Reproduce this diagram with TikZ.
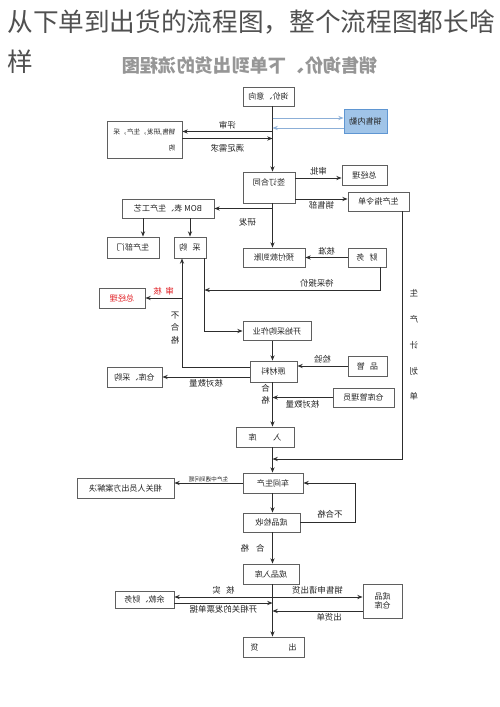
\documentclass[tikz,border=0pt]{standalone}
\usepackage{fontspec}
\setmainfont{Noto Sans CJK SC}
\usepackage{graphicx}
\usepackage{xcolor}
\definecolor{LineGray}{RGB}{45,45,45}
\definecolor{BoxGray}{RGB}{95,95,95}
\definecolor{HeadGray}{RGB}{80,80,80}
\definecolor{TitleGray}{RGB}{150,150,150}
\definecolor{DeskBlue}{RGB}{160,196,232}
\definecolor{DeskEdge}{RGB}{95,150,210}
\definecolor{DeskArrow}{RGB}{140,175,215}
\definecolor{RejectRed}{RGB}{225,30,35}
\usetikzlibrary{arrows.meta}
\newcommand*{\mirr}[1]{\reflectbox{#1}}
\newcommand*{\boxfont}{\fontsize{4.6}{5.6}\selectfont}
\newcommand*{\lblfont}{\fontsize{4.8}{5.8}\selectfont}
\tikzset{%
  box/.style={draw=BoxGray, line width=0.5pt, inner sep=0pt, text=black!85, font=\boxfont},
  boxwh/.style 2 args={minimum width=#1*0.02cm, minimum height=#2*0.02cm},
  deskbox/.style={fill=DeskBlue, draw=DeskEdge},
  lbl/.style={font=\lblfont, inner sep=1.2pt, text=black!85},
  arr/.style={->, draw=LineGray, line width=0.5pt},
  deskarr/.style={->, draw=DeskArrow, line width=0.5pt}
}

\begin{document}
\begin{tikzpicture}[x=0.02cm, y=-0.02cm, >={Stealth[length=3pt,width=2.4pt]}]
    \path[fill=white, use as bounding box] (0,0) rectangle (500,707);
    % Page heading (not mirrored).
    \node[anchor=base west, inner sep=0pt, text=HeadGray, font=\fontsize{14.6}{17}\selectfont]
      (head1) at (7,31) {从下单到出货的流程图，整个流程图都长啥};
    \node[anchor=base west, inner sep=0pt, text=HeadGray, font=\fontsize{14.6}{17}\selectfont]
      (head2) at (7,71) {样};
    % Chart title, printed mirrored.
    \node[text=TitleGray, font=\fontsize{10.4}{12}\bfseries] (title) at (250,66)
      {\mirr{销售询价、下单到出货的流程图}};
    % Main trunk x position.
    \coordinate (tx) at (272.5,0);
    % Boxes.
    \node[box, boxwh={51}{19}] (ask) at (268.5,96.5) {\mirr{询价、意向}};
    \node[box, deskbox, boxwh={43}{24}] (desk) at (365.5,121) {\mirr{销售内勤}};
    \node[box, boxwh={75}{37}, align=right, font=\fontsize{3.8}{9}\selectfont]
      (depts) at (144.5,140) {\mirr{销售,研发，生产，采}\\\mirr{购}};
    \node[box, boxwh={52}{31}, text depth=0.2cm] (sign) at (269,187.5) {\mirr{签订合同}};
    \node[box, boxwh={45}{20}] (gm1) at (364.5,175) {\mirr{总经理}};
    \node[box, boxwh={61}{19}] (order) at (378.5,201.5) {\mirr{生产指令单}};
    \node[box, boxwh={92}{19}] (bom) at (168,208.5) {\mirr{BOM 表、生产工艺}};
    \node[box, boxwh={52}{21}] (prod) at (133,247.5) {\mirr{生产部门}};
    \node[box, boxwh={32}{21}] (buy) at (190,247.5) {\mirr{采\hspace{3pt}购}};
    \node[box, boxwh={62}{19}] (prepay) at (274,257.5) {\mirr{预付款到账}};
    \node[box, boxwh={38}{19}] (fin) at (367,257.5) {\mirr{财\hspace{3pt}务}};
    \node[box, boxwh={46}{20}, text=RejectRed] (gm2) at (122,298) {\mirr{总经理}};
    \node[box, boxwh={68}{19}] (start) at (277,331) {\mirr{开始采购作业}};
    \node[box, boxwh={47}{21}] (raw) at (273.5,371.5) {\mirr{原材料}};
    \node[box, boxwh={39}{20}] (qc) at (367.5,366) {\mirr{品\hspace{3pt}管}};
    \node[box, boxwh={55}{20}] (store) at (134.5,377) {\mirr{仓库、采购}};
    \node[box, boxwh={61}{19}] (keeper) at (363.5,397.5) {\mirr{仓库管理员}};
    \node[box, boxwh={58}{20}] (inbound) at (265,437) {\mirr{入\hspace{9.5pt}库}};
    \node[box, boxwh={60}{20}] (shop) at (273,483) {\mirr{车间生产}};
    \node[box, boxwh={97}{20}] (solve) at (125.5,488) {\mirr{相关人员出方案解决}};
    \node[box, boxwh={57}{19}] (check) at (271.5,522.5) {\mirr{成品检收}};
    \node[box, boxwh={56}{20}] (stock) at (271,574) {\mirr{成品入库}};
    \node[box, boxwh={59}{17}] (pay) at (144.5,599.5) {\mirr{余款、财务}};
    \node[box, boxwh={39}{34}, align=center] (wh) at (382.5,601) {\mirr{成品}\\\mirr{仓库}};
    \node[box, boxwh={61}{20}] (ship) at (273.5,647) {\mirr{出\hspace{17pt}货}};
    % Enquiry and review.
    \draw[arr] (ask.south -| tx) -- (sign.north -| tx);
    \draw[deskarr] ([yshift=0.06cm]desk.west -| tx) -- ([yshift=0.06cm]desk.west);
    \draw[deskarr] ([yshift=-0.14cm]desk.west) -- ([yshift=-0.14cm]desk.west -| tx);
    \draw[arr] ([yshift=0.17cm]depts.east -| tx) -- ([yshift=0.17cm]depts.east)
      node[lbl, midway, above] (l-review) {\mirr{评审}};
    \draw[arr] ([yshift=0.03cm]depts.east) -- ([yshift=0.03cm]depts.east -| tx)
      node[lbl, midway, below=2pt] (l-meet) {\mirr{满足需求}};
    % Contract.
    \draw[arr] ([yshift=0.19cm]sign.east) -- ([yshift=0.19cm]sign.east -| gm1.west)
      node[lbl, midway, above] (l-approve) {\mirr{审批}};
    \draw[arr] ([yshift=-0.23cm]sign.east) -- ([yshift=-0.23cm]sign.east -| order.west)
      node[lbl, midway, below] (l-sales) {\mirr{销售部}};
    \draw[arr] (sign.south -| tx) -- (prepay.north -| tx);
    \draw[arr] (bom.east -| tx) -- (bom.east)
      node[lbl, midway, below=4pt, xshift=0.08cm] (l-rd) {\mirr{研发}};
    \draw[arr] ([xshift=0.2cm]prod.north |- bom.south) -- ([xshift=0.2cm]prod.north);
    \draw[arr] (buy.north |- bom.south) -- (buy.north);
    \draw[arr] (fin.west) -- (prepay.east)
      node[lbl, midway, above] (l-ok) {\mirr{核准}};
    % Purchasing.
    \coordinate (quote) at (204.5,290);
    \draw[arr] ([xshift=0.26cm]fin.south) |- (quote)
      node[lbl, pos=0.68, above] (l-quote) {\mirr{待采报价}};
    \draw[arr] ([xshift=0.29cm]buy.south) |- (start.west);
    \coordinate (rej) at ([xshift=-0.16cm]buy.south);
    \draw[arr] ([yshift=0.09cm]raw.west) -| (rej)
      node[lbl, pos=0.68, left, align=center, font=\fontsize{4.8}{7.1}\selectfont]
      (l-fail) {\mirr{不}\\\mirr{合}\\\mirr{格}};
    \draw[arr] (gm2.east -| rej) -- (gm2.east)
      node[lbl, midway, above, text=RejectRed] (l-audit) {\mirr{审\hspace{2pt}核}};
    \draw[arr] (start.south -| tx) -- (raw.north -| tx);
    \draw[arr] (qc.west) -- (qc.west -| raw.east)
      node[lbl, midway, above] (l-inspect) {\mirr{检验}};
    \draw[arr] (raw.west |- store.east) -- (store.east)
      node[lbl, midway, below] (l-count1) {\mirr{核对数量}};
    \draw[arr] (raw.south -| tx) -- (inbound.north -| tx)
      node[lbl, pos=0.27, left, align=center, font=\fontsize{4.8}{6.8}\selectfont]
      (l-pass1) {\mirr{合}\\\mirr{格}};
    \draw[arr] (keeper.west) -- (keeper.west -| tx)
      node[lbl, midway, below] (l-count2) {\mirr{核对数量}};
    % Production.
    \coordinate (planin) at (272.5,459);
    \draw[arr] ([xshift=0.47cm]order.south) |- (planin)
      node[lbl, pos=0.27, right=3pt, align=center, font=\fontsize{4.8}{14.7}\selectfont]
      (l-plan) {\mirr{生}\\\mirr{产}\\\mirr{计}\\\mirr{划}\\\mirr{单}};
    \draw[arr] (inbound.south -| tx) -- (shop.north -| tx);
    \draw[arr] (shop.west) -- (shop.west -| solve.east)
      node[lbl, midway, above, font=\fontsize{3.2}{4}\selectfont, inner sep=0.6pt]
      (l-issue) {\mirr{生产中遇到问题}};
    \draw[arr] (shop.south -| tx) -- (check.north -| tx);
    \draw[arr] (check.east) -- ++(55,0) |- (shop.east);
    \node[lbl] (l-fail2) at (330,514) {\mirr{不合格}};
    \draw[arr] (check.south -| tx) -- (stock.north -| tx)
      node[lbl, midway, left=3pt] (l-pass2) {\mirr{合\hspace{4pt}格}};
    % Shipping.
    \draw[arr] (stock.south -| tx) -- (ship.north -| tx);
    \draw[arr] ([yshift=0.05cm]pay.east -| tx) -- ([yshift=0.05cm]pay.east)
      node[lbl, midway, above] (l-verify) {\mirr{核\hspace{3pt}实}};
    \draw[arr] ([yshift=-0.07cm]pay.east) -- ([yshift=-0.07cm]pay.east -| tx)
      node[lbl, midway, below] (l-invoice) {\mirr{开相关的发票单据}};
    \draw[arr] ([yshift=0.08cm]wh.west -| tx) -- ([yshift=0.08cm]wh.west)
      node[lbl, midway, above] (l-apply) {\mirr{销售申请出货}};
    \draw[arr] ([yshift=-0.2cm]wh.west) -- ([yshift=-0.2cm]wh.west -| tx)
      node[lbl, pos=0.37, below] (l-note) {\mirr{出货单}};
\end{tikzpicture}
\end{document}
